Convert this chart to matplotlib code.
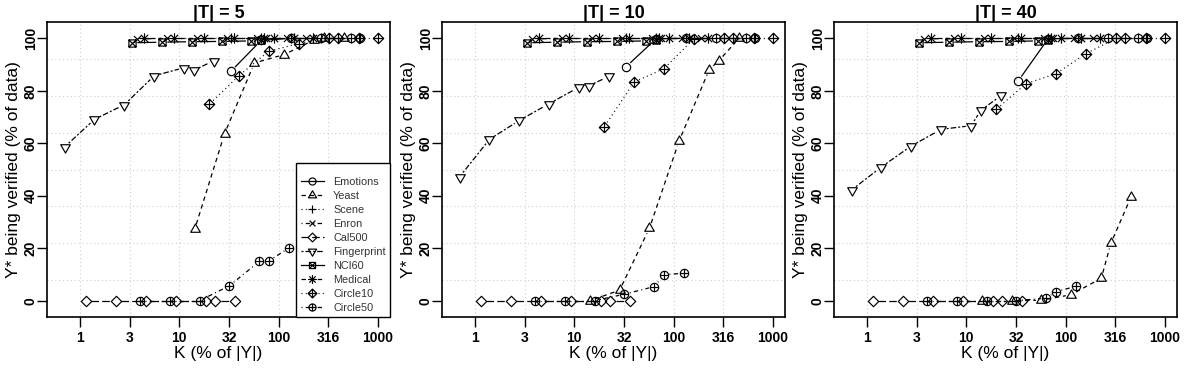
import matplotlib
matplotlib.use('Agg')
import matplotlib.pyplot as plt
from matplotlib.path import Path
from matplotlib.collections import LineCollection
from matplotlib.lines import Line2D
from matplotlib.ticker import NullLocator
import numpy as np

plt.rcParams['font.family'] = ['Liberation Sans', 'DejaVu Sans']

# ---------------- data ----------------
panel_titles = ['|T| = 5', '|T| = 10', '|T| = 40']
series_names = ['Emotions', 'Yeast', 'Scene', 'Enron', 'Cal500', 'Fingerprint',
                'NCI60', 'Medical', 'Circle10', 'Circle50']

x_emotions = [33.3, 66.7, 133, 267, 533, 667]
x_yeast = [14.3, 28.6, 57.1, 114, 229, 286, 457]
x_scene = [33.3, 66.7, 133, 267, 533, 667]
x_enron = [3.77, 7.55, 15.1, 30.2, 60.4, 75.5, 121, 189]
x_cal500 = [1.15, 2.3, 4.6, 9.2, 18.4, 23.0, 36.8]
x_fingerprint = [0.70, 1.40, 2.80, 5.59, 11.2, 14.0, 22.4]
x_nci60 = [3.33, 6.67, 13.3, 26.7, 53.3, 66.7]
x_medical = [4.44, 8.89, 17.8, 35.6, 71.1, 88.9, 142, 222]
x_circle10 = [20, 40, 80, 160, 320, 400, 640, 1000]
x_circle50 = [4, 8, 16, 32, 64, 80, 128]

y_emotions = [[87.5, 99.2, 100, 100, 100, 100],
              [89.2, 99.8, 100, 100, 100, 100],
              [83.7, 99.8, 100, 100, 100, 100]]
y_yeast = [[27.2, 63.7, 90.6, 93.8, 99.4, 100, 100],
           [0.0, 4.0, 27.6, 61.0, 88.1, 91.5, 100],
           [0.0, 0.0, 0.2, 2.3, 8.6, 21.9, 39.6]]
y_scene = [[100, 100, 100, 100, 100, 100],
           [100, 100, 100, 100, 100, 100],
           [100, 100, 100, 100, 100, 100]]
y_enron = [[99.7, 100, 100, 100, 100, 100, 100, 100],
           [99.7, 100, 100, 100, 100, 100, 100, 100],
           [99.7, 100, 100, 100, 100, 100, 100, 100]]
y_cal500 = [[0, 0, 0, 0, 0, 0, 0],
            [0, 0, 0, 0, 0, 0, 0],
            [0, 0, 0, 0, 0, 0, 0]]
y_fingerprint = [[58.6, 69.1, 74.7, 85.7, 88.8, 87.8, 91.5],
                 [47.2, 61.5, 68.7, 75.1, 81.4, 81.9, 85.5],
                 [42.2, 51.0, 59.0, 65.3, 66.7, 72.5, 78.2]]
y_nci60 = [[98.3, 98.5, 98.7, 98.8, 99.0, 99.5],
           [98.3, 98.5, 98.7, 98.8, 99.0, 99.5],
           [98.3, 98.5, 98.7, 98.8, 99.0, 99.5]]
y_medical = [[100, 100, 100, 100, 100, 100, 100, 100],
             [100, 100, 100, 100, 100, 100, 100, 100],
             [100, 100, 100, 100, 100, 100, 100, 100]]
y_circle10 = [[74.8, 85.8, 95.1, 98.0, 100, 100, 100, 100],
              [66.2, 83.3, 88.4, 99.8, 100, 100, 100, 100],
              [72.9, 82.7, 86.5, 94.1, 100, 100, 100, 100]]
y_circle50 = [[0, 0, 0, 5.7, 15.0, 15.2, 20.2],
              [0, 0, 0, 2.5, 5.4, 9.9, 10.5],
              [0, 0, 0, 0, 1.0, 3.5, 5.5]]

xtick_vals = [1, 3.162, 10, 31.62, 100, 316.2, 1000]
xtick_labels = ['1', '3', '10', '32', '100', '316', '1000']
ytick_vals = [0, 20, 40, 60, 80, 100]

# ---------------- markers (R pch 1..10) ----------------
MO, LI, CL = Path.MOVETO, Path.LINETO, Path.CLOSEPOLY
sq = Path([(-1, -1), (1, -1), (1, 1), (-1, 1), (-1, -1)], [MO, LI, LI, LI, CL])
xl = Path([(-1, -1), (1, 1), (-1, 1), (1, -1)], [MO, LI, MO, LI])
pl = Path([(-1, 0), (1, 0), (0, -1), (0, 1)], [MO, LI, MO, LI])
dm = Path([(0, 1), (1, 0), (0, -1), (-1, 0), (0, 1)], [MO, LI, LI, LI, CL])
tu = Path([(0, 1), (0.866, -0.5), (-0.866, -0.5), (0, 1)], [MO, LI, LI, CL])
td = Path([(0, -1), (0.866, 0.5), (-0.866, 0.5), (0, -1)], [MO, LI, LI, CL])
ci = Path.unit_circle()
ast = Path.make_compound_path(pl, Path(xl.vertices * 0.71, xl.codes))
sqx = Path.make_compound_path(sq, xl)
dmp = Path.make_compound_path(dm, pl)
cip = Path.make_compound_path(ci, pl)

marker_spec = {
    'Emotions': (ci, 6.0),
    'Yeast': (tu, 8.0),
    'Scene': (pl, 7.5),
    'Enron': (xl, 5.0),
    'Cal500': (dm, 7.5),
    'Fingerprint': (td, 8.0),
    'NCI60': (sqx, 5.2),
    'Medical': (ast, 7.5),
    'Circle10': (dmp, 7.5),
    'Circle50': (cip, 6.0),
}
dash = {
    'solid': '-',
    'dashed': (0, (3.5, 3.0)),
    'dotted': (0, (0.8, 2.6)),
    'dotdash': (0, (0.8, 2.6, 3.5, 2.6)),
    'longdash': (0, (6.0, 2.6)),
    'twodash': (0, (1.6, 1.6, 4.5, 1.6)),
}
line_spec = {
    'Emotions': dash['solid'], 'Yeast': dash['dashed'], 'Scene': dash['dotted'],
    'Enron': dash['dotdash'], 'Cal500': dash['longdash'], 'Fingerprint': dash['twodash'],
    'NCI60': dash['solid'], 'Medical': dash['dashed'], 'Circle10': dash['dotted'],
    'Circle50': dash['dotdash'],
}

xs = {'Emotions': x_emotions, 'Yeast': x_yeast, 'Scene': x_scene, 'Enron': x_enron,
      'Cal500': x_cal500, 'Fingerprint': x_fingerprint, 'NCI60': x_nci60,
      'Medical': x_medical, 'Circle10': x_circle10, 'Circle50': x_circle50}
ys = {'Emotions': y_emotions, 'Yeast': y_yeast, 'Scene': y_scene, 'Enron': y_enron,
      'Cal500': y_cal500, 'Fingerprint': y_fingerprint, 'NCI60': y_nci60,
      'Medical': y_medical, 'Circle10': y_circle10, 'Circle50': y_circle50}

LW = 0.9
MEW = 0.85
GAP = 5.5  # pixels, R type="b" gap around points

W, H = 1192, 375
fig = plt.figure(figsize=(W / 100, H / 100), dpi=100)
lefts = [47, 442, 834]
ax_w, ax_top, ax_bot = 343, 22, 317

for p in range(3):
    ax = fig.add_axes([lefts[p] / W, (H - ax_bot) / H, ax_w / W, (ax_bot - ax_top) / H])
    ax.set_xscale('log')
    ax.set_xlim(10 ** -0.332, 10 ** 3.122)
    ax.set_ylim(-6.2, 106.2)
    ax.xaxis.set_minor_locator(NullLocator())

    # grid (dotted, light grey)
    for v in xtick_vals[:-1]:
        ax.axvline(v, color='#cfcfcf', lw=0.8, ls=(0, (1, 2.5)), zorder=0)
    for v in np.linspace(-6.2, 106.2, 9)[1:-1]:
        ax.axhline(v, color='#cfcfcf', lw=0.8, ls=(0, (1, 2.5)), zorder=0)

    inv = ax.transData.inverted()
    for name in series_names:
        x = np.array(xs[name], float)
        y = np.array(ys[name][p], float)
        pts = ax.transData.transform(np.column_stack([x, y]))
        segs = []
        for p0, p1 in zip(pts[:-1], pts[1:]):
            d = p1 - p0
            L = np.hypot(d[0], d[1])
            if L > 2 * GAP:
                u = d / L
                segs.append(inv.transform(np.array([p0 + u * GAP, p1 - u * GAP])))
        if segs:
            ax.add_collection(LineCollection(segs, colors='black', linewidths=LW,
                                             linestyles=[line_spec[name]], zorder=2))
        mk, ms = marker_spec[name]
        ax.plot(x, y, ls='none', marker=mk, ms=ms, mfc='none', mec='black',
                mew=MEW, zorder=3)

    ax.set_xticks(xtick_vals)
    ax.set_xticklabels(xtick_labels)
    ax.set_yticks(ytick_vals)
    ax.set_yticklabels([str(v) for v in ytick_vals])
    ax.tick_params(direction='out', length=7, width=1, labelsize=10, colors='black')
    ax.tick_params(axis='x', pad=3)
    ax.tick_params(axis='y', pad=-0.5)
    for lab in ax.get_xticklabels():
        lab.set_fontweight('bold')
    for lab in ax.get_yticklabels():
        lab.set_fontweight('bold')
        lab.set_rotation(90)
        lab.set_va('center')
    for s in ax.spines.values():
        s.set_linewidth(1.2)
        s.set_color('black')

    ax.set_title(panel_titles[p], fontsize=13, fontweight='bold', pad=1)
    ax.set_xlabel('K (% of |Y|)', fontsize=12.5, labelpad=0.5)
    ax.set_ylabel('Y* being verified (% of data)', fontsize=12.5, labelpad=2)

    if p == 0:
        handles = []
        for name in series_names:
            mk, ms = marker_spec[name]
            handles.append(Line2D([], [], color='black', lw=LW, ls=line_spec[name],
                                  marker=mk, ms=ms * 0.85, mfc='none', mec='black', mew=MEW))
        leg = ax.legend(handles, series_names, loc='lower right', borderaxespad=0,
                        fontsize=7.8, frameon=True, fancybox=False, edgecolor='black',
                        framealpha=1, handlelength=2.2, handletextpad=0.8,
                        labelspacing=0.37, borderpad=0.4,
                        title=' ', title_fontsize=4)
        leg.get_frame().set_linewidth(1.0)
        for t in leg.get_texts():
            t.set_color('#333333')

fig.savefig('out.png', dpi=100)
